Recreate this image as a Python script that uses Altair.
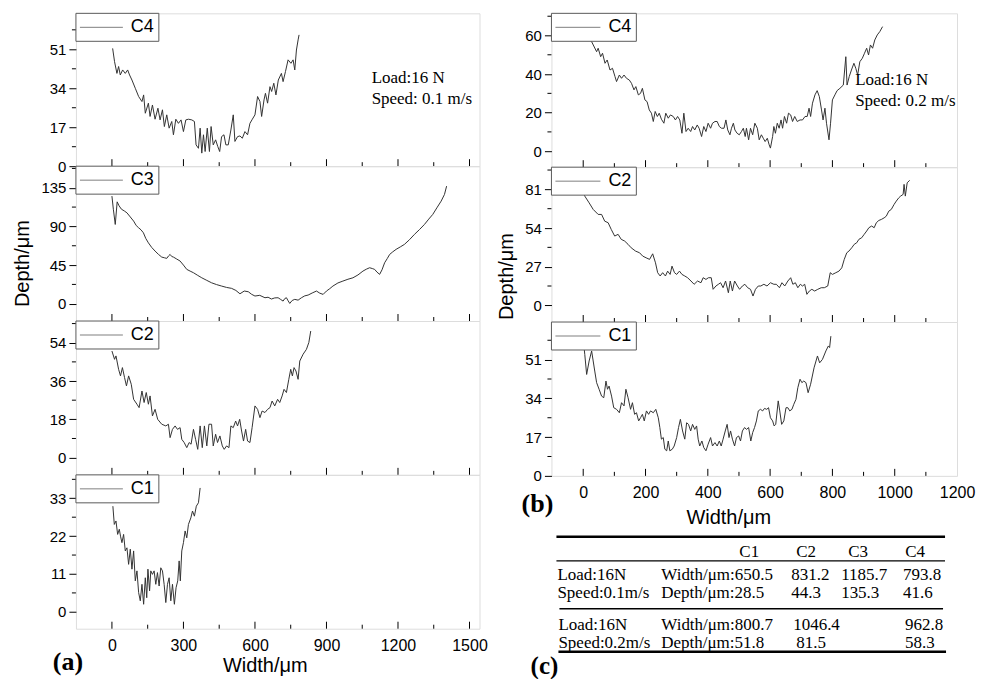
import altair as alt
import pandas as pd

FONT = "Liberation Sans"
SERIF = "Liberation Serif"
LINE = "#333333"

# ---------------- data: (width um, depth um) ----------------
# (a) Load 16 N, speed 0.1 m/s
A_C4 = [(3,51.4),(11,45.6),(21,40.5),(28,43.5),(35,39.8),(45,42.0),(56,40.5),(66,42.0),(74,39.8),(84,37.6),
        (98,34.0),(112,30.4),(126,28.2),(133,31.1),(140,23.1),(153,27.5),(160,21.7),(170,26.7),(181,20.5),(193,25.3),
        (202,20.2),(212,24.6),(220,17.3),(230,22.4),(240,16.6),(251,19.5),(258,13.7),(268,20.5),(279,18.7),(290,20.2),
        (300,15.1),(310,20.2),(321,20.5),(335,20.2),(346,19.5),(353,9.3),(363,7.8),(370,16.6),(377,5.7),(384,13.7),
        (391,6.4),(400,16.6),(409,6.4),(416,17.3),(425,9.3),(435,11.5),(444,8.6),(452,6.4),(460,12.9),(470,13.7),
        (478,9.3),(488,9.3),(499,15.8),(509,22.4),(516,10.8),(527,12.9),(537,13.2),(547,12.2),(558,15.1),(569,13.7),
        (579,18.7),(589,20.5),(600,22.4),(611,30.4),(621,28.2),(628,21.7),(638,28.9),(644,31.8),(653,27.5),(663,34.7),
        (670,32.6),(679,36.2),(688,31.1),(698,37.6),(711,40.5),(718,36.9),(728,41.3),(739,46.4),(751,44.9),(760,46.4),
        (767,42.0),(774,50.7),(781,55.1),(785,57.3)]
A_C3 = [(0,125.3),(6,110.0),(14,92.3),(22,118.6),(30,114.0),(40,110.0),(52,108.0),(63,105.8),(77,101.0),(91,96.2),
        (102,91.0),(112,88.4),(122,86.0),(132,82.6),(142,76.0),(153,70.9),(167,65.5),(181,61.3),(195,57.5),(209,54.3),
        (220,53.5),(230,52.8),(237,55.5),(244,57.4),(251,55.0),(258,54.3),(272,52.0),(286,49.7),(300,45.0),(314,40.0),
        (328,38.0),(342,36.1),(360,33.0),(377,30.2),(398,27.2),(418,24.4),(439,22.3),(460,20.6),(481,19.0),(502,17.9),
        (520,15.5),(537,11.6),(555,14.8),(572,14.0),(586,11.0),(600,9.0),(620,9.8),(642,7.0),(655,7.6),(669,5.5),
        (683,6.8),(697,7.0),(708,5.0),(718,3.1),(725,6.0),(732,7.0),(739,3.5),(746,0.4),(756,3.8),(767,5.1),
        (781,4.2),(795,7.0),(809,9.2),(823,10.1),(840,12.5),(858,14.8),(872,12.3),(886,10.9),(900,14.8),(914,17.6),
        (927,20.6),(948,24.2),(969,26.4),(990,28.5),(1011,30.2),(1032,33.5),(1053,38.0),(1067,40.2),(1081,41.9),(1092,41.0),
        (1102,40.0),(1112,36.8),(1123,34.2),(1133,39.5),(1144,47.7),(1155,52.6),(1165,57.4),(1178,60.4),(1192,63.3),(1210,66.2),
        (1227,69.1),(1248,74.5),(1269,80.7),(1290,86.3),(1311,92.3),(1329,98.5),(1346,104.0),(1363,111.6),(1381,119.4),(1395,127.2),
        (1404,136.9)]
A_C2 = [(0,50.1),(11,46.2),(17,47.8),(28,41.5),(36,38.4),(44,42.3),(53,37.6),(61,33.7),(70,38.4),(81,34.5),
        (91,27.4),(105,25.1),(114,23.5),(126,31.3),(135,25.9),(144,30.6),(153,25.1),(160,29.0),(170,19.6),(181,22.7),
        (192,18.0),(209,15.7),(226,14.9),(237,15.7),(244,9.4),(254,13.3),(265,14.9),(275,13.3),(286,14.1),(293,8.6),
        (303,7.1),(314,4.7),(324,7.1),(332,6.3),(342,13.3),(351,8.6),(360,3.9),(370,14.9),(379,4.7),(388,14.9),
        (398,5.5),(407,15.7),(418,15.7),(425,5.5),(435,11.0),(443,7.1),(453,10.2),(463,5.5),(471,3.9),(481,5.5),
        (491,4.7),(499,14.9),(509,14.1),(519,17.2),(527,14.9),(536,18.0),(544,12.5),(552,7.8),(561,13.3),(569,7.8),
        (579,7.1),(588,14.1),(600,24.3),(611,22.7),(621,18.8),(630,21.9),(642,21.2),(653,22.7),(663,23.5),(672,26.6),
        (683,24.3),(695,27.4),(704,25.9),(714,29.0),(722,32.1),(732,30.6),(742,36.8),(750,41.5),(757,38.4),(764,42.3),
        (772,40.7),(781,36.8),(788,45.4),(802,48.6),(816,50.9),(826,54.1),(834,59.5)]
A_C1 = [(4,30.7),(10,25.4),(17,26.4),(24,22.5),(31,24.0),(36,22.0),(42,20.1),(49,22.5),(56,17.7),(63,18.6),
        (70,13.8),(77,18.2),(84,12.4),(91,17.7),(98,9.0),(105,11.9),(112,5.6),(119,3.2),(126,8.0),(133,2.2),
        (140,9.9),(146,4.1),(151,12.4),(158,6.1),(163,11.9),(170,10.9),(177,11.9),(184,8.0),(191,11.4),(198,7.5),
        (205,12.8),(212,11.9),(219,8.0),(226,2.7),(233,8.0),(240,9.9),(247,3.2),(254,8.0),(262,2.2),(269,7.0),
        (276,9.0),(282,14.8),(287,9.0),(293,17.7),(300,20.1),(307,23.5),(314,21.5),(321,25.4),(331,27.3),(338,29.3),
        (346,27.8),(354,30.7),(363,31.7),(370,36.0)]

# (b) Load 16 N, speed 0.2 m/s
B_C4 = [(5,60.0),(27,56.8),(43,51.6),(48,53.4),(56,49.0),(62,50.8),(70,45.6),(77,47.3),(86,42.1),(94,43.0),
        (102,38.7),(107,36.1),(116,39.5),(123,37.8),(131,39.5),(139,37.8),(148,36.9),(155,35.2),(163,31.8),(169,33.5),
        (177,29.2),(184,30.0),(190,32.6),(198,26.6),(205,25.7),(212,21.4),(219,19.7),(225,15.4),(231,20.6),(238,18.0),
        (244,19.7),(251,16.6),(259,14.5),(265,19.7),(273,17.1),(280,18.8),(289,18.0),(296,16.2),(303,18.0),(310,16.2),
        (317,9.3),(323,19.7),(330,10.2),(337,11.9),(345,10.2),(351,12.8),(358,11.0),(366,13.6),(372,11.9),(380,7.6),
        (387,12.8),(394,10.2),(401,14.5),(409,11.9),(415,14.5),(423,15.4),(430,15.4),(437,12.8),(444,11.9),(452,11.9),
        (458,16.2),(464,11.0),(471,8.5),(476,11.9),(482,14.5),(487,11.0),(494,9.3),(501,8.5),(508,10.2),(514,11.9),
        (520,7.6),(524,11.9),(531,5.9),(537,11.9),(544,8.5),(551,14.5),(559,11.9),(565,5.9),(572,8.5),(578,6.7),
        (584,5.0),(591,6.7),(597,3.3),(601,1.6),(608,7.6),(612,12.8),(617,9.3),(623,14.5),(629,11.9),(635,16.2),
        (640,11.9),(646,18.0),(653,14.5),(659,19.7),(666,18.8),(672,15.4),(679,18.0),(687,15.4),(696,16.2),(704,16.2),
        (712,18.0),(719,18.0),(725,22.3),(730,18.0),(736,24.9),(744,29.2),(751,31.4),(758,28.3),(765,21.4),(770,16.2),
        (776,22.3),(781,14.5),(789,5.9),(794,14.5),(800,26.6),(808,29.2),(815,31.4),(824,32.6),(835,34.3),(843,49.0),
        (847,34.3),(854,38.7),(861,42.1),(869,45.6),(875,43.0),(881,39.5),(888,46.4),(896,48.2),(903,50.8),(910,53.4),
        (916,49.9),(922,55.1),(929,53.4),(936,57.7),(944,60.3),(952,62.0),(961,64.6)]
B_C2 = [(0,79.0),(5,76.3),(19,71.6),(32,67.0),(48,63.5),(59,63.5),(69,58.8),(80,57.7),(90,53.0),(101,48.4),
        (112,49.6),(122,46.1),(133,44.9),(144,42.6),(154,40.2),(168,37.9),(181,36.7),(191,34.4),(202,33.2),(213,32.1),
        (223,36.0),(232,29.7),(239,22.8),(247,20.5),(255,22.8),(264,20.5),(271,23.9),(279,21.6),(285,27.4),(293,22.8),
        (300,21.6),(309,23.9),(317,21.6),(326,20.5),(335,19.3),(346,17.0),(356,14.7),(367,17.0),(378,15.8),(385,19.3),
        (394,18.1),(402,19.3),(411,19.3),(417,11.2),(426,13.5),(434,14.7),(441,15.8),(449,12.3),(457,17.0),(466,8.8),
        (472,17.0),(479,10.0),(486,17.0),(495,13.5),(502,11.2),(511,13.5),(519,14.7),(528,12.3),(537,11.2),(545,6.5),
        (553,11.2),(562,13.5),(570,13.5),(580,14.7),(590,13.5),(601,15.8),(612,14.7),(620,14.7),(630,12.3),(638,15.8),
        (647,13.5),(657,17.0),(666,19.3),(673,14.7),(681,15.8),(689,12.3),(697,14.7),(704,13.5),(711,14.7),(718,7.7),
        (726,10.0),(734,11.2),(743,10.0),(753,11.2),(764,12.3),(774,12.3),(785,13.5),(793,22.8),(800,21.6),(811,22.8),
        (821,23.9),(830,26.2),(838,32.1),(846,36.7),(853,37.9),(862,40.2),(870,42.6),(878,43.7),(885,46.1),(894,47.2),
        (902,49.6),(910,51.9),(917,54.2),(926,55.4),(934,54.2),(941,57.7),(949,59.3),(957,60.0),(966,61.1),(973,62.3),
        (981,65.8),(989,67.0),(998,70.5),(1005,72.8),(1013,75.1),(1019,76.3),(1027,77.5),(1030,84.5),(1034,76.3),(1040,85.6),
        (1048,87.3)]
B_C1 = [(0,60.0),(5,53.3),(11,44.5),(19,50.4),(27,54.8),(32,50.4),(37,46.0),(43,40.9),(51,38.0),(59,35.0),
        (66,34.3),(73,41.6),(78,38.0),(83,39.4),(91,35.0),(98,29.9),(107,29.2),(116,27.7),(123,32.1),(131,30.7),
        (137,38.0),(144,34.3),(152,29.2),(158,32.1),(165,27.0),(171,27.7),(178,24.1),(184,25.5),(190,27.0),(196,24.1),
        (203,28.5),(210,27.0),(216,28.5),(225,27.7),(233,29.2),(241,25.5),(246,21.2),(251,16.1),(257,16.8),(262,11.7),
        (268,11.0),(273,15.3),(278,11.0),(286,11.7),(292,13.1),(300,16.8),(306,21.2),(312,24.8),(319,19.7),(326,16.1),
        (332,23.3),(338,22.6),(345,19.7),(351,22.6),(358,20.4),(364,21.9),(369,16.1),(374,13.1),(381,15.3),(387,12.4),
        (394,11.0),(401,13.9),(409,16.8),(415,13.1),(423,14.6),(430,13.1),(437,15.3),(443,13.1),(449,16.1),(456,19.7),
        (462,22.6),(468,16.8),(473,19.7),(479,16.1),(486,13.1),(492,16.8),(499,17.5),(505,15.3),(511,19.7),(518,21.2),
        (524,20.4),(531,21.2),(538,15.3),(544,19.0),(550,21.2),(556,24.1),(562,28.5),(569,29.2),(576,28.5),(582,29.6),
        (589,29.2),(595,29.9),(601,25.5),(608,24.1),(613,21.9),(618,22.6),(626,32.9),(631,28.5),(637,22.6),(644,24.1),
        (651,29.9),(657,29.9),(663,28.5),(670,29.2),(676,31.4),(683,33.6),(689,38.7),(696,42.4),(702,40.9),(708,41.6),
        (715,40.9),(722,36.5),(730,40.2),(741,47.4),(752,52.6),(759,49.6),(768,51.1),(779,54.8),(787,57.0),(791,56.3),
        (795,61.3)]

# axis ticks
A_XMAJ = [0, 300, 600, 900, 1200, 1500]
A_XMIN = [150, 450, 750, 1050, 1350]
B_XMAJ = [0, 200, 400, 600, 800, 1000, 1200]
B_XMIN = [100, 300, 500, 700, 900, 1100]

# table (c)
T_COLS = ["C1", "C2", "C3", "C4"]
T_GROUP_LABELS = [("Load:16N", "Speed:0.1m/s"), ("Load:16N", "Speed:0.2m/s")]
T_WIDTH_01 = ["650.5", "831.2", "1185.7", "793.8"]
T_DEPTH_01 = ["28.5", "44.3", "135.3", "41.6"]
T_WIDTH_02 = ["800.7", "1046.4", "", "962.8"]
T_DEPTH_02 = ["51.8", "81.5", "", "58.3"]


def one():
    return pd.DataFrame({"k": [0]})


def panel(pts, name, xdom, xmaj, xmin_, ydom, ymaj, ymin_, w, h, legend_w,
          bottom=False, xtitle_xy=None, ytitle_xy=None, annot=None, tag=None):
    df = pd.DataFrame(pts, columns=["w", "d"])
    xs = alt.Scale(domain=xdom, nice=False, zero=False)
    ys = alt.Scale(domain=ydom, nice=False, zero=False)
    if bottom:
        xax = alt.Axis(values=xmaj, ticks=False, tickSize=0, domain=False, grid=False,
                       labelFontSize=16, labelFont=FONT, labelColor="black", labelPadding=9,
                       labelFlush=False, labelOverlap=False, format="d",
                       title="Width/μm", titleFont=FONT, titleFontSize=20, titleFontWeight="normal",
                       titleColor="black", titleX=xtitle_xy[0], titleY=xtitle_xy[1],
                       titleAlign="center", titleBaseline="middle")
    else:
        xax = None
    ykw = dict(values=ymaj, tickSize=7, tickColor="black", tickWidth=1, domain=False, grid=False,
               labelFontSize=15, labelFont=FONT, labelColor="black", labelPadding=3, format="d",
               labelOverlap=False)
    if ytitle_xy is not None:
        ykw.update(title="Depth/μm", titleFont=FONT, titleFontSize=20, titleFontWeight="normal",
                   titleColor="black", titleAngle=270, titleX=ytitle_xy[0], titleY=ytitle_xy[1],
                   titleAlign="center", titleBaseline="middle")
    else:
        ykw["title"] = None
    yax = alt.Axis(**ykw)

    def X():
        return alt.X("w:Q", scale=xs, axis=xax)

    def Y():
        return alt.Y("d:Q", scale=ys, axis=yax)

    layers = []
    layers.append(alt.Chart(df).mark_line(color=LINE, strokeWidth=1, clip=True).encode(x=X(), y=Y()))
    xin = [v for v in xmaj if xdom[0] < v < xdom[1]]
    layers.append(alt.Chart(pd.DataFrame({"w": xin})).mark_rule(color="black", strokeWidth=1)
                  .encode(x=X(), y=alt.value(h), y2=alt.value(h - 7)))
    layers.append(alt.Chart(pd.DataFrame({"w": xmin_})).mark_rule(color="black", strokeWidth=1)
                  .encode(x=X(), y=alt.value(h), y2=alt.value(h - 4)))
    yin = [v for v in ymin_ if ydom[0] < v < ydom[1]]
    layers.append(alt.Chart(pd.DataFrame({"d": yin})).mark_rule(color="black", strokeWidth=1)
                  .encode(y=Y(), x=alt.value(-4), x2=alt.value(0)))
    # legend box
    layers.append(alt.Chart(one()).mark_rect(fill="white", stroke="#5a5a5a", strokeWidth=1)
                  .encode(x=alt.value(0), x2=alt.value(legend_w), y=alt.value(0), y2=alt.value(28)))
    layers.append(alt.Chart(one()).mark_rule(color="#808080", strokeWidth=1)
                  .encode(x=alt.value(4), x2=alt.value(legend_w - 36), y=alt.value(14)))
    layers.append(alt.Chart(one()).mark_text(text=name, align="left", baseline="middle", font=FONT,
                                             fontSize=18, color="black")
                  .encode(x=alt.value(legend_w - 28), y=alt.value(14)))
    if annot is not None:
        ax, ay, lines = annot
        for i, t in enumerate(lines):
            layers.append(alt.Chart(one()).mark_text(text=t, align="left", baseline="middle", font=SERIF,
                                                     fontSize=17, color="black")
                          .encode(x=alt.value(ax), y=alt.value(ay + 21 * i)))
    if tag is not None:
        tx, ty, tt = tag
        layers.append(alt.Chart(one()).mark_text(text=tt, align="center", baseline="middle", font=SERIF,
                                                 fontSize=26, fontWeight="bold", color="black")
                      .encode(x=alt.value(tx), y=alt.value(ty)))
    return alt.layer(*layers).properties(width=w, height=h)


AW, BW = 404, 406
AX = [-151, 1542]
BX = [-102, 1200]

a4 = panel(A_C4, "C4", AX, A_XMAJ, A_XMIN, [0, 66.7], [0, 17, 34, 51], [8.5, 25.5, 42.5, 59.5], AW, 153, 83,
           annot=(296, 65, ["Load:16 N", "Speed: 0.1 m/s"]))
a3 = panel(A_C3, "C3", AX, A_XMAJ, A_XMIN, [-20.1, 160.1], [0, 45, 90, 135], [22.5, 67.5, 112.5, 157.5], AW, 155, 83,
           ytitle_xy=(-53, 97))
a2 = panel(A_C2, "C2", AX, A_XMAJ, A_XMIN, [-8.1, 64.2], [0, 18, 36, 54], [9, 27, 45, 63], AW, 154, 83)
a1 = panel(A_C1, "C1", AX, A_XMAJ, A_XMIN, [-4.9, 39.8], [0, 11, 22, 33], [5.5, 16.5, 27.5, 38.5], AW, 154, 83,
           bottom=True, xtitle_xy=(189, 37), tag=(-8, 187, "(a)"))

b4 = panel(B_C4, "C4", BX, B_XMAJ, B_XMIN, [-8.3, 71.5], [0, 20, 40, 60], [10, 30, 50, 70], BW, 154, 85,
           annot=(304, 67, ["Load:16 N", "Speed: 0.2 m/s"]))
b2 = panel(B_C2, "C2", BX, B_XMAJ, B_XMIN, [-11.65, 96.5], [0, 27, 54, 81], [13.5, 40.5, 67.5, 94.5], BW, 155, 85,
           ytitle_xy=(-45, 109))
b1 = panel(B_C1, "C1", BX, B_XMAJ, B_XMIN, [0, 67.5], [0, 17, 34, 51], [8.5, 25.5, 42.5, 59.5], BW, 154, 85,
           bottom=True, xtitle_xy=(177, 42), tag=(-14, 182, "(b)"))

# ---------------- table (c) ----------------
COL_X_G1 = [110, 240, 290, 352]
COL_X_G2 = [110, 242, 290, 354]
ROW_Y = [99, 117, 149, 167]
LBL_X = [6, 7]
recs = []
groups = [(T_WIDTH_01, T_DEPTH_01, COL_X_G1), (T_WIDTH_02, T_DEPTH_02, COL_X_G2)]
for g, (wv, dv, cx) in enumerate(groups):
    y1, y2 = ROW_Y[2 * g], ROW_Y[2 * g + 1]
    recs.append({"t": T_GROUP_LABELS[g][0], "px": LBL_X[g], "py": y1})
    recs.append({"t": T_GROUP_LABELS[g][1], "px": LBL_X[g], "py": y2})
    recs.append({"t": "Width/μm:" + wv[0], "px": cx[0], "py": y1})
    recs.append({"t": "Depth/μm:" + dv[0], "px": cx[0], "py": y2})
    for j in range(1, 4):
        if wv[j]:
            recs.append({"t": wv[j], "px": cx[j], "py": y1})
        if dv[j]:
            dx = 3 if (g == 1 and j == 1) else 0
            recs.append({"t": dv[j], "px": cx[j] + dx, "py": y2})
tdf = pd.DataFrame(recs)
HEAD_X = [198, 255, 307, 364]
hdf = pd.DataFrame({"t": T_COLS, "px": HEAD_X, "py": [76] * 4})

tl = []
tl.append(alt.Chart(tdf).mark_text(font=SERIF, fontSize=17, align="left", baseline="middle", color="black")
          .encode(x=alt.X("px:Q", scale=None, axis=None), y=alt.Y("py:Q", scale=None, axis=None), text="t:N"))
tl.append(alt.Chart(hdf).mark_text(font=SERIF, fontSize=17, align="center", baseline="middle", color="black")
          .encode(x=alt.X("px:Q", scale=None, axis=None), y=alt.Y("py:Q", scale=None, axis=None), text="t:N"))
for (x1, x2, yy, sw) in [(5, 394, 61, 2.6), (5, 394, 85, 1.2), (8, 392, 133, 1.3), (7, 395, 176, 2.6)]:
    tl.append(alt.Chart(one()).mark_rule(color="black", strokeWidth=sw)
              .encode(x=alt.value(x1), x2=alt.value(x2), y=alt.value(yy)))
tl.append(alt.Chart(one()).mark_text(text="(c)", align="center", baseline="middle", font=SERIF,
                                     fontSize=25, fontWeight="bold", color="black")
          .encode(x=alt.value(-7), y=alt.value(190)))
table = alt.layer(*tl).properties(width=BW, height=190, view=alt.ViewBackground(strokeWidth=0, stroke="white"))

left = alt.vconcat(a4, a3, a2, a1, spacing=0, bounds="flush")
right = alt.vconcat(b4, b2, b1, table, spacing=0, bounds="flush")
chart = (alt.hconcat(left, right, spacing=7)
         .properties(padding={"left": 4, "top": 4, "right": 4, "bottom": 0})
         .configure_view(stroke="black", strokeWidth=1)
         .configure(background="white"))

chart.save("out.html", embed_options={"renderer": "svg", "actions": False})
